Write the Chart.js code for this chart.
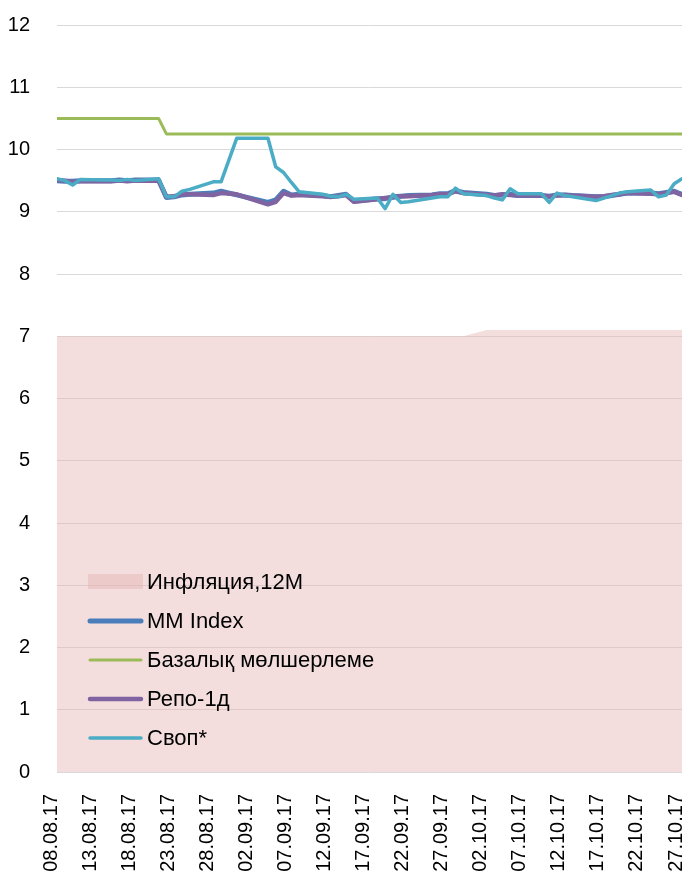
<!DOCTYPE html>
<html>
<head>
<meta charset="utf-8">
<script src="https://cdn.jsdelivr.net/npm/chart.js@4"></script>
<style>
  html, body { margin:0; padding:0; background:#fff; }
  #wrap { width:689px; height:875px; position:relative; }
</style>
</head>
<body>
<div id="wrap"><canvas id="chart"></canvas></div>
<script>
// business days shown on the chart (dd.mm.yy)
const dates = [
  '08.08.17','09.08.17','10.08.17','11.08.17','14.08.17','15.08.17','16.08.17','17.08.17','18.08.17',
  '21.08.17','22.08.17','23.08.17','24.08.17','25.08.17','28.08.17','29.08.17','31.08.17',
  '04.09.17','05.09.17','06.09.17','07.09.17','08.09.17','11.09.17','12.09.17','13.09.17','14.09.17','15.09.17',
  '18.09.17','19.09.17','20.09.17','21.09.17','22.09.17','25.09.17','26.09.17','27.09.17','28.09.17','29.09.17',
  '02.10.17','03.10.17','04.10.17','05.10.17','06.10.17','09.10.17','10.10.17','11.10.17','12.10.17','13.10.17',
  '16.10.17','17.10.17','18.10.17','19.10.17','20.10.17','23.10.17','24.10.17','25.10.17','26.10.17','27.10.17'
];
const tickLabels = ['08.08.17','13.08.17','18.08.17','23.08.17','28.08.17','02.09.17','07.09.17','12.09.17',
  '17.09.17','22.09.17','27.09.17','02.10.17','07.10.17','12.10.17','17.10.17','22.10.17','27.10.17'];

const inflation = [
  7,7,7,7,7,7,7,7,7, 7,7,7,7,7,7,7,7, 7,7,7,7,7,7,7,7,7,7, 7,7,7,7,7,7,7,7,7,7,
  7.1,7.1,7.1,7.1,7.1,7.1,7.1,7.1,7.1,7.1, 7.1,7.1,7.1,7.1,7.1,7.1,7.1,7.1,7.1,7.1
];
const mmIndex = [
  9.50,9.49,9.49,9.50,9.50,9.50,9.51,9.50,9.51, 9.51,9.23,9.24,9.27,9.28,9.30,9.33,9.27,
  9.15,9.19,9.33,9.27,9.28,9.26,9.24,9.26,9.28,9.17, 9.21,9.21,9.24,9.25,9.26,9.27,9.29,9.29,9.34,9.31,
  9.28,9.26,9.27,9.28,9.26,9.26,9.25,9.27,9.27,9.26, 9.24,9.24,9.26,9.28,9.30,9.30,9.29,9.31,9.33,9.28
];
const baseRate = [
  10.5,10.5,10.5,10.5,10.5,10.5,10.5,10.5,10.5, 10.5,10.25,10.25,10.25,10.25,10.25,10.25,10.25,
  10.25,10.25,10.25,10.25,10.25,10.25,10.25,10.25,10.25,10.25, 10.25,10.25,10.25,10.25,10.25,10.25,10.25,10.25,10.25,10.25,
  10.25,10.25,10.25,10.25,10.25,10.25,10.25,10.25,10.25,10.25, 10.25,10.25,10.25,10.25,10.25,10.25,10.25,10.25,10.25,10.25
];
const repo = [
  9.51,9.50,9.48,9.49,9.49,9.49,9.50,9.49,9.50, 9.50,9.24,9.25,9.28,9.28,9.27,9.30,9.28,
  9.12,9.16,9.30,9.26,9.27,9.25,9.24,9.25,9.27,9.16, 9.20,9.22,9.23,9.25,9.25,9.27,9.28,9.28,9.33,9.30,
  9.27,9.26,9.28,9.27,9.26,9.26,9.24,9.26,9.27,9.26, 9.24,9.25,9.27,9.28,9.30,9.29,9.28,9.30,9.32,9.27
];
const swap = [
  9.53,9.50,9.43,9.52,9.51,9.51,9.50,9.52,9.50, 9.53,9.24,9.24,9.33,9.36,9.48,9.48,10.18,
  10.18,9.72,9.63,9.47,9.32,9.28,9.25,9.24,9.28,9.20, 9.22,9.05,9.28,9.15,9.16,9.22,9.24,9.24,9.38,9.29,
  9.26,9.22,9.19,9.37,9.29,9.29,9.15,9.30,9.26,9.24, 9.18,9.22,9.26,9.30,9.32,9.35,9.24,9.27,9.45,9.53
];

function dayNo(s){
  const [d,m,y] = s.split('.').map(Number);
  return Math.round((Date.UTC(2000+y, m-1, d) - Date.UTC(2017, 7, 8)) / 86400000);
}
const pts = vals => vals.map((v,i) => ({ x: dayNo(dates[i]), y: v }));

const FONT = '"Liberation Sans", Arial, sans-serif';

// legend sits inside the plot, bottom-left
const legendInside = {
  id:'legendInside',
  afterDraw(c){
    const ctx = c.ctx, a = c.chartArea;
    const x0 = a.left + 31, y0 = 582, gap = 39;
    ctx.save();
    ctx.font = '22px ' + FONT;
    ctx.textBaseline = 'middle';
    c.data.datasets.forEach((ds,i) => {
      const y = y0 + i*gap;
      if (ds.fill) {
        ctx.fillStyle = ds.backgroundColor;
        ctx.fillRect(x0, y-8, 55, 15);
      } else {
        ctx.strokeStyle = ds.borderColor;
        ctx.lineWidth = ds.borderWidth;
        ctx.lineCap = 'round';
        ctx.beginPath(); ctx.moveTo(x0+2, y); ctx.lineTo(x0+53, y); ctx.stroke();
      }
      ctx.fillStyle = '#000';
      ctx.fillText(ds.label, x0 + 59, y + 1);
    });
    ctx.restore();
  }
};

const lineDs = (label, data, color, width, order) => ({
  label, data: pts(data), borderColor: color, borderWidth: width, order,
  pointRadius: 0, fill: false, tension: 0, borderJoinStyle: 'round', borderCapStyle: 'round'
});

new Chart(document.getElementById('chart'), {
  type:'line',
  data:{ datasets:[
    { label:'Инфляция,12M', data: pts(inflation), fill:'origin', backgroundColor:'rgba(228,180,180,0.45)',
      borderWidth:0, pointRadius:0, order:5 },
    lineDs('MM Index', mmIndex, '#4a7ebb', 5, 4),
    lineDs('Базалық мөлшерлеме', baseRate, '#9bbb59', 3, 3),
    lineDs('Репо-1д', repo, '#8064a2', 4.5, 2),
    lineDs('Своп*', swap, '#4bacc6', 3.5, 1)
  ]},
  options:{
    responsive:true, maintainAspectRatio:false, animation:false,
    layout:{ padding:{ left:9, top:25, right:7, bottom:0 } },
    plugins:{ legend:{ display:false }, tooltip:{ enabled:false } },
    scales:{
      x:{ type:'linear', min:0, max:80,
        grid:{ display:false, drawTicks:false }, border:{ display:false },
        afterFit: s => { s.height = 103; s.paddingLeft = 0; s.paddingRight = 0; },
        ticks:{ stepSize:5, autoSkip:false, minRotation:90, maxRotation:90, padding:22, labelOffset:-6, color:'#000',
          font:{ family:FONT, size:20 },
          callback: v => tickLabels[v/5] } },
      y:{ min:0, max:12,
        grid:{ color:'#d9d9d9', drawTicks:false }, border:{ display:false },
        afterFit: s => { s.width = 48; s.paddingTop = 0; s.paddingBottom = 0; },
        ticks:{ stepSize:1, padding:27, color:'#000',
          font:{ family:FONT, size:20 } } }
    }
  },
  plugins:[legendInside]
});
</script>
</body>
</html>
